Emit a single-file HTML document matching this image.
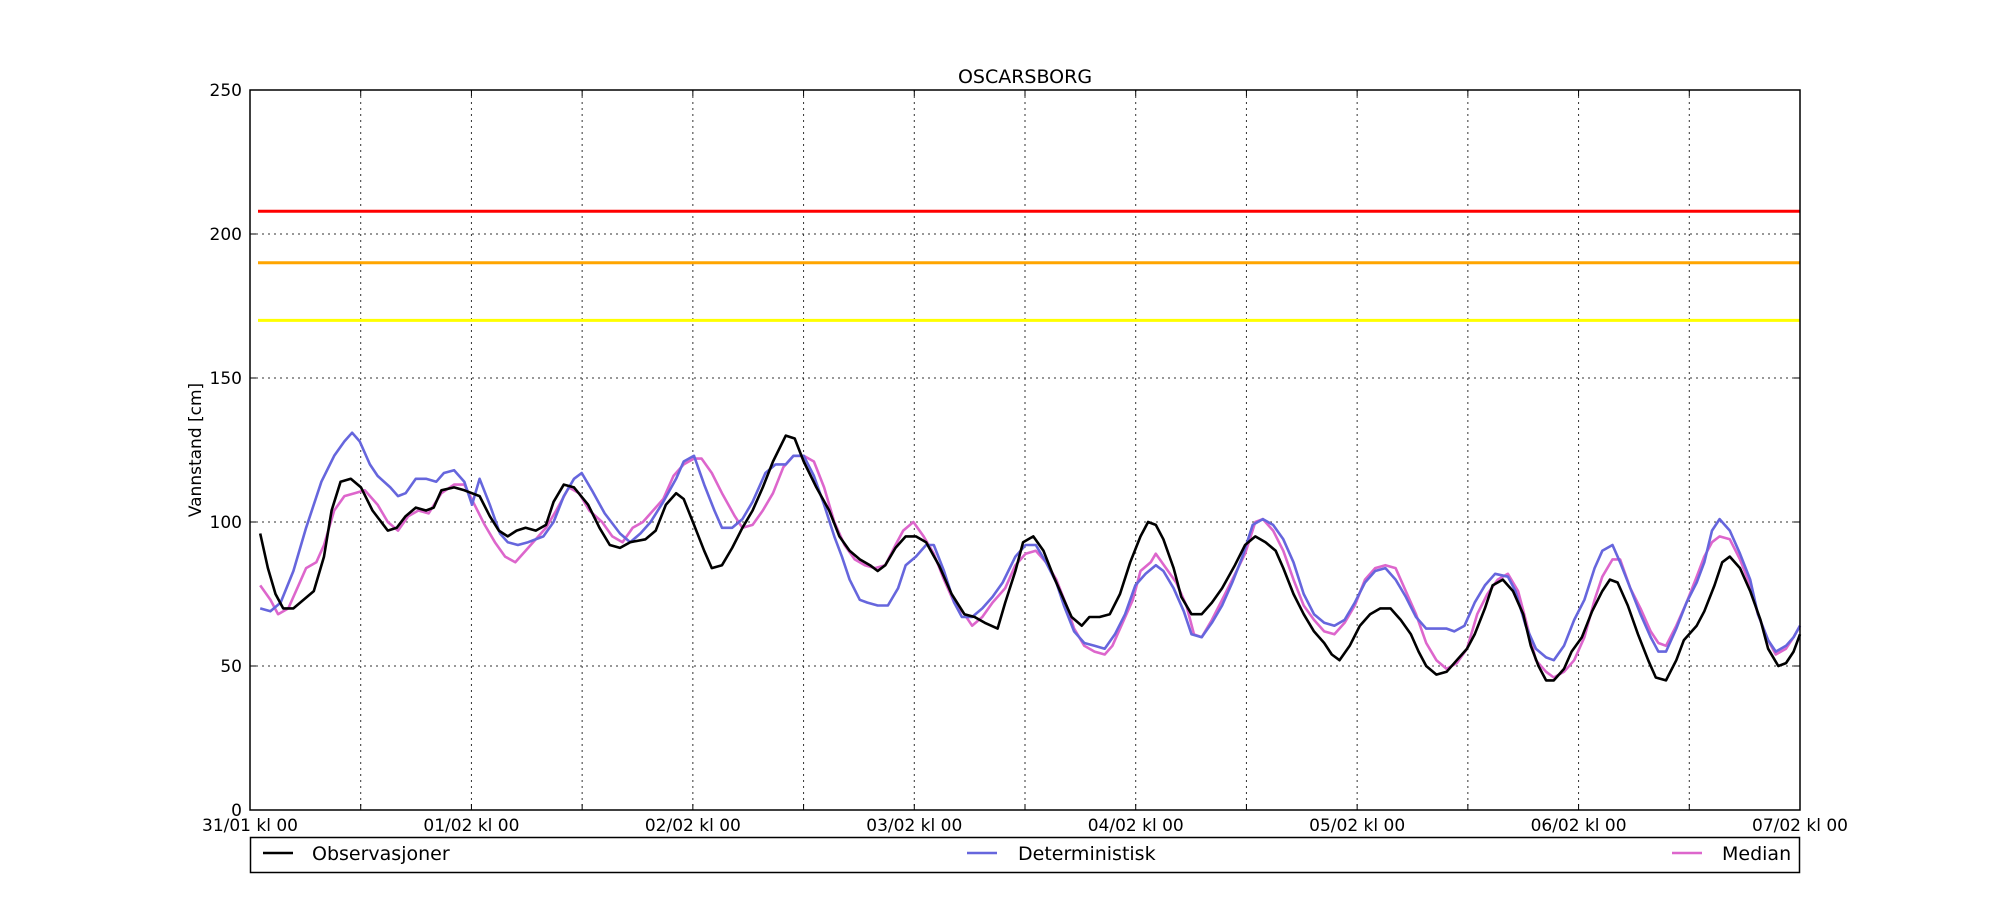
<!DOCTYPE html>
<html><head><meta charset="utf-8"><style>
html,body{margin:0;padding:0;background:#fff;}
svg{display:block;font-family:"DejaVu Sans","Liberation Sans",sans-serif;}
</style></head><body>
<svg id="s" width="2000" height="900" xmlns="http://www.w3.org/2000/svg">
<rect width="2000" height="900" fill="#fff"/>
<text x="1025" y="83" font-size="19" text-anchor="middle">OSCARSBORG</text>
<g id="grid" stroke="#000" stroke-width="1" stroke-dasharray="2,4" opacity="0.8"></g>
<line x1="258" y1="211.3" x2="1800" y2="211.3" stroke="#ff0000" stroke-width="3"/>
<line x1="258" y1="262.8" x2="1800" y2="262.8" stroke="#ffa500" stroke-width="3"/>
<line x1="258" y1="320.4" x2="1800" y2="320.4" stroke="#ffff00" stroke-width="3"/>
<g id="series" fill="none" stroke-width="2.6" stroke-linejoin="round"></g>
<rect x="250" y="90" width="1550" height="720" fill="none" stroke="#000" stroke-width="1.5"/>
<g id="labels" font-size="17"></g>
<text transform="translate(201,450) rotate(-90)" font-size="17" text-anchor="middle">Vannstand [cm]</text>
<rect x="250.5" y="837.5" width="1549" height="35" fill="#fff" stroke="#000" stroke-width="1.5"/>
<line x1="263" y1="853" x2="293" y2="853" stroke="#000" stroke-width="2.6"/>
<text x="312" y="860" font-size="19">Observasjoner</text>
<line x1="967" y1="853" x2="997" y2="853" stroke="#6666dd" stroke-width="2.6"/>
<text x="1018" y="860" font-size="19">Deterministisk</text>
<line x1="1672" y1="853" x2="1702" y2="853" stroke="#dd66cc" stroke-width="2.6"/>
<text x="1722" y="860" font-size="19">Median</text>
</svg>
<script>
var NS="http://www.w3.org/2000/svg";
function el(p,t,a,txt){var e=document.createElementNS(NS,t);for(var k in a)e.setAttribute(k,a[k]);if(txt)e.textContent=txt;p.appendChild(e);return e;}
var g=document.getElementById('grid'),L=document.getElementById('labels'),S=document.getElementById('series');
var dates=["31/01","01/02","02/02","03/02","04/02","05/02","06/02","07/02"];
for(var i=0;i<=14;i++){var x=250+i*1550/14;
 if(i>0&&i<14)el(g,'line',{x1:x,y1:90,x2:x,y2:810});
 el(L,'line',{x1:x,y1:810,x2:x,y2:804,stroke:'#000'});el(L,'line',{x1:x,y1:90,x2:x,y2:96,stroke:'#000'});
 if(i%2==0)el(L,'text',{x:x,y:831,'text-anchor':'middle'},dates[i/2]+" kl 00");}
for(var v=0;v<=250;v+=50){var y=810-v*2.88;
 if(v>0&&v<250)el(g,'line',{x1:250,y1:y,x2:1800,y2:y});
 el(L,'line',{x1:250,y1:y,x2:256,y2:y,stroke:'#000'});el(L,'line',{x1:1794,y1:y,x2:1800,y2:y,stroke:'#000'});
 el(L,'text',{x:242,y:y+6,'text-anchor':'end'},String(v));}
function draw(d,c){var pts=[];for(var i=0;i<d.length;i+=2){pts.push(((250+(d[i]-196)*1550/1215)).toFixed(1)+","+(810-d[i+1]*2.88).toFixed(1));}
 el(S,'polyline',{points:pts.join(' '),stroke:c});}
var med=[204,78,212,73,218,68,226,70,234,78,240,84,248,86,254,92,262,104,270,109,278,110,286,111,296,106,304,100,312,97,320,102,328,104,336,103,346,110,356,113,364,113,372,106,380,99,388,93,396,88,404,86,412,90,420,94,428,98,436,104,446,112,454,110,462,104,472,100,480,95,488,93,496,98,504,100,512,104,520,108,528,116,536,120,544,122,550,122,558,117,566,110,576,102,582,98,590,99,598,104,606,110,614,119,622,123,630,123,638,121,646,112,654,100,662,92,670,87,678,85,686,84,694,85,702,92,708,97,716,100,724,95,732,89,740,80,748,72,756,68,762,64,770,67,778,72,788,77,796,85,804,89,812,90,820,86,828,80,836,71,842,63,850,57,858,55,866,54,872,57,880,65,888,73,894,83,902,86,906,89,914,84,922,79,930,71,936,61,942,60,950,66,958,73,966,80,976,89,984,100,990,101,998,97,1006,90,1014,80,1022,71,1030,66,1038,62,1046,61,1054,65,1062,71,1070,80,1078,84,1086,85,1094,84,1102,76,1110,68,1118,58,1126,52,1134,49,1142,51,1150,56,1158,68,1166,75,1174,80,1182,82,1190,76,1196,66,1204,52,1212,48,1218,46,1226,48,1234,52,1242,60,1250,73,1256,81,1264,87,1270,87,1278,77,1286,70,1294,62,1300,58,1306,57,1314,64,1322,72,1330,81,1336,88,1342,93,1348,95,1356,94,1364,87,1372,78,1378,68,1386,59,1392,54,1400,56,1406,60,1411,64];
var det=[204,70,212,69,220,72,230,83,240,98,252,114,262,123,270,128,276,131,282,128,290,120,296,116,306,112,312,109,318,110,326,115,334,115,342,114,348,117,356,118,364,114,370,106,376,115,384,106,392,96,398,93,406,92,414,93,426,95,434,100,442,109,450,115,456,117,464,111,474,103,486,96,494,93,502,96,510,100,520,107,530,115,536,121,544,123,552,113,560,104,566,98,574,98,582,101,590,107,600,117,608,120,616,120,622,123,630,123,638,116,646,106,654,95,660,88,666,80,674,73,680,72,688,71,696,71,704,77,710,85,718,88,726,92,732,92,740,83,748,72,754,67,762,67,770,70,778,74,786,79,796,88,804,92,812,92,820,86,828,79,834,71,842,62,850,58,858,57,866,56,874,61,882,68,890,78,898,82,906,85,912,83,920,77,928,69,934,61,942,60,950,65,958,71,966,79,974,88,982,99,990,101,998,99,1006,94,1014,86,1022,75,1030,68,1038,65,1046,64,1054,66,1062,72,1070,79,1078,83,1086,84,1094,80,1102,74,1110,67,1118,63,1126,63,1134,63,1140,62,1148,64,1156,72,1164,78,1172,82,1182,81,1188,76,1196,64,1204,56,1212,53,1218,52,1226,57,1234,66,1242,73,1250,84,1256,90,1264,92,1270,86,1278,77,1286,68,1294,60,1300,55,1306,55,1314,63,1322,72,1330,79,1336,86,1342,97,1348,101,1356,97,1364,89,1372,80,1378,68,1386,59,1392,55,1400,57,1406,60,1411,64];
var obs=[204,96,210,84,216,75,222,70,230,70,246,76,254,88,260,104,267,114,275,115,283,112,292,104,304,97,311,98,318,102,326,105,334,104,340,105,346,111,356,112,364,111,376,109,384,102,391,97,398,95,405,97,412,98,420,97,428,99,434,107,442,113,450,112,461,106,470,98,478,92,486,91,494,93,506,94,514,97,522,106,530,110,536,108,545,98,552,90,558,84,566,85,574,91,582,98,590,104,598,112,606,121,616,130,623,129,630,121,640,112,650,104,658,95,666,90,674,87,682,85,688,83,694,85,702,91,710,95,718,95,726,93,736,85,746,75,756,68,764,67,772,65,782,63,788,72,796,83,802,93,810,95,818,90,826,81,834,73,840,67,848,64,854,67,862,67,870,68,878,75,886,86,894,95,900,100,906,99,912,94,920,84,926,74,934,68,942,68,950,72,958,77,968,85,976,92,984,95,992,93,1000,90,1006,84,1014,75,1022,68,1030,62,1038,58,1044,54,1050,52,1058,57,1066,64,1074,68,1082,70,1090,70,1098,66,1106,61,1112,55,1118,50,1126,47,1134,48,1142,52,1150,56,1156,61,1164,70,1170,78,1178,80,1186,76,1194,68,1200,57,1206,50,1212,45,1218,45,1226,49,1232,55,1240,60,1248,69,1256,76,1262,80,1268,79,1276,71,1284,61,1292,52,1298,46,1306,45,1314,52,1320,59,1330,64,1336,69,1344,78,1350,86,1356,88,1364,84,1372,76,1380,66,1386,56,1394,50,1400,51,1406,55,1411,61];
draw(med,'#dd66cc');draw(det,'#6666dd');draw(obs,'#000');
</script>
</body></html>
